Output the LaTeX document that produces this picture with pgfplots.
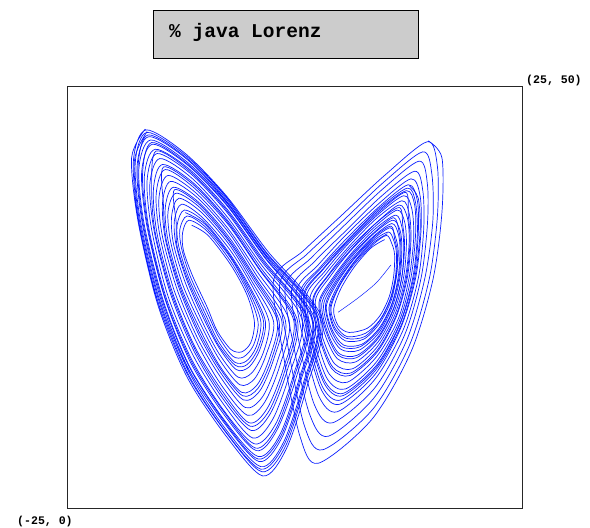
\documentclass[border=0pt]{standalone}
\usepackage{fontspec}
\setmonofont{Liberation Mono}
\usepackage{pgfplots}
\pgfplotsset{compat=1.18}
\definecolor{orbit}{RGB}{10,30,255}
\definecolor{boxgray}{RGB}{204,204,204}
\pgfplotsset{orb/.style={draw=orbit, line width=0.7bp, smooth, mark=none}}
\begin{document}
\begin{tikzpicture}
\useasboundingbox (0,0) rectangle (590bp,528bp);
% title box
\draw[fill=boxgray, draw=black, line width=0.8bp] (153bp,470bp) rectangle (418bp,518bp);
\node[anchor=base west, inner sep=0pt] at (169bp,490bp)
  {\ttfamily\bfseries\fontsize{19.6}{20}\selectfont \% java Lorenz};
% corner labels
\node[anchor=base west, inner sep=0pt] at (526bp,444bp)
  {\ttfamily\bfseries\fontsize{11.6}{12}\selectfont (25, 50)};
\node[anchor=base west, inner sep=0pt] at (17bp,4bp)
  {\ttfamily\bfseries\fontsize{11.6}{12}\selectfont (-25, 0)};

\begin{axis}[
    at={(67bp,20bp)}, anchor=south west,
    scale only axis, width=455bp, height=422bp,
    xmin=-25, xmax=25, ymin=0, ymax=50,
    ticks=none,
    axis line style={line width=0.9bp, black!85},
]
% left lobe, loops spiralling outward
\addplot[orb] coordinates {
 (-11.3,33.5)(-9.5,32.3)(-7.0,28.8)(-5.2,25.2)(-4.4,22.0)(-4.8,19.6)(-5.8,18.5)(-7.0,18.8)(-8.5,21.0)(-9.6,23.8)(-11.2,27.5)(-12.2,30.5)(-12.3,32.6)
 (-11.6,34.1)(-9.6,32.8)(-7.0,29.2)(-5.1,25.5)(-4.0,22.0)(-4.5,19.3)(-5.6,17.9)(-6.8,18.0)(-8.4,20.4)(-9.7,23.4)(-11.4,27.3)(-12.4,30.7)(-12.6,33.0)
 (-11.8,34.6)(-9.8,33.3)(-7.0,29.6)(-5.0,25.7)(-3.7,22.1)(-4.2,19.1)(-5.3,17.4)(-6.6,17.3)(-8.4,19.8)(-9.8,23.0)(-11.6,27.2)(-12.7,30.9)(-12.9,33.5)
 (-12.1,35.3)(-9.9,33.9)(-7.1,30.1)(-4.8,26.0)(-3.2,22.1)(-3.8,18.8)(-5.0,16.7)(-6.4,16.4)(-8.3,19.0)(-10.0,22.5)(-11.8,26.9)(-13.0,31.1)(-13.2,34.0)
 (-12.4,36.0)(-10.1,34.4)(-7.1,30.6)(-4.7,26.4)(-2.8,22.1)(-3.4,18.5)(-4.7,16.0)(-6.2,15.5)(-8.3,18.3)(-10.1,22.0)(-12.0,26.7)(-13.3,31.3)(-13.5,34.6)
 (-12.7,36.7)(-10.2,35.0)(-7.1,31.1)(-4.6,26.7)(-2.3,22.1)(-3.1,18.2)(-4.4,15.3)(-6.0,14.6)(-8.2,17.5)(-10.2,21.5)(-12.3,26.5)(-13.6,31.5)(-13.9,35.1)
 (-13.0,37.3)(-10.4,35.6)(-7.2,31.6)(-4.5,27.0)(-1.9,22.2)(-2.7,17.9)(-4.1,14.6)(-5.8,13.7)(-8.2,16.8)(-10.3,21.0)(-12.5,26.3)(-13.9,31.7)(-14.2,35.6)
 (-13.3,38.0)(-10.5,36.2)(-7.2,32.1)(-4.3,27.3)(-1.4,22.2)(-2.3,17.6)(-3.8,13.9)(-5.6,12.8)(-8.1,16.0)(-10.5,20.5)(-12.7,26.1)(-14.2,31.9)(-14.5,36.2)
 (-13.6,38.7)(-10.7,36.8)(-7.2,32.6)(-4.2,27.6)(-1.0,22.2)(-1.9,17.3)(-3.5,13.2)(-5.4,11.9)(-8.0,15.3)(-10.6,20.0)(-12.9,25.9)(-14.5,32.1)(-14.9,36.7)
 (-13.9,39.4)(-10.8,37.3)(-7.3,33.1)(-4.1,28.0)(-0.6,22.3)(-1.6,16.9)(-3.3,12.5)(-5.2,11.0)(-8.0,14.5)(-10.7,19.5)(-13.2,25.7)(-14.8,32.3)(-15.2,37.2)
 (-14.2,40.1)(-11.0,37.9)(-7.3,33.6)(-3.9,28.3)(-0.1,22.3)(-1.2,16.6)(-3.0,11.8)(-5.0,10.1)(-7.9,13.8)(-10.9,19.0)(-13.4,25.5)(-15.1,32.5)(-15.5,37.8)
 (-14.5,40.7)(-11.1,38.5)(-7.3,34.0)(-3.8,28.6)(0.3,22.3)(-0.8,16.3)(-2.7,11.1)(-4.8,9.2)(-7.9,13.0)(-11.0,18.5)(-13.6,25.3)(-15.4,32.7)(-15.9,38.3)
 (-14.8,41.4)(-11.3,39.1)(-7.4,34.5)(-3.7,28.9)(0.8,22.4)(-0.5,16.0)(-2.4,10.5)(-4.6,8.3)(-7.8,12.3)(-11.1,18.0)(-13.9,25.1)(-15.7,33.0)(-16.2,38.8)
 (-15.1,42.0)(-11.4,39.6)(-7.4,35.0)(-3.6,29.2)(1.2,22.4)(-0.1,15.8)(-2.1,9.9)(-4.4,7.6)(-7.8,11.6)(-11.3,17.6)(-14.1,24.9)(-16.0,33.1)(-16.5,39.3)
 (-15.3,42.5)(-11.5,40.1)(-7.4,35.4)(-3.4,29.4)(1.5,22.4)(0.2,15.5)(-1.9,9.3)(-4.2,6.8)(-7.7,11.0)(-11.4,17.2)(-14.2,24.7)(-16.2,33.3)(-16.8,39.7)
 (-15.6,43.1)(-11.6,40.5)(-7.4,35.8)(-3.3,29.7)(1.9,22.4)(0.5,15.3)(-1.6,8.7)(-4.0,6.1)(-7.7,10.4)(-11.5,16.7)(-14.4,24.5)(-16.5,33.5)(-17.1,40.2)
 (-15.8,43.6)(-11.7,40.9)(-7.4,36.1)(-3.2,29.9)(2.2,22.4)(0.7,15.1)(-1.4,8.3)(-3.9,5.5)(-7.6,9.9)(-11.6,16.4)(-14.6,24.4)(-16.7,33.6)(-17.3,40.5)
 (-16.0,44.0)(-11.8,41.3)(-7.5,36.4)(-3.2,30.1)(2.5,22.5)(1.0,14.9)(-1.2,7.8)(-3.7,4.9)(-7.6,9.4)(-11.6,16.1)(-14.7,24.2)(-16.9,33.8)(-17.5,40.9)
 (-16.2,44.5)(-11.9,41.7)(-7.5,36.8)(-3.1,30.3)(2.8,22.5)(1.2,14.7)(-1.0,7.3)(-3.6,4.3)(-7.5,8.9)(-11.7,15.7)(-14.9,24.1)(-17.1,33.9)(-17.7,41.2)
 (-16.3,44.8)(-12.0,42.0)(-7.5,37.0)(-3.0,30.5)(3.0,22.5)(1.4,14.5)(-0.9,7.0)(-3.5,3.8)(-7.5,8.5)(-11.8,15.5)(-15.0,24.0)(-17.2,34.0)(-17.9,41.5)
 (-16.4,44.9)
};
% left lobe, a later pass of the orbit
\addplot[orb] coordinates {
 (-12.0,35.0)(-9.8,33.6)(-7.1,29.9)(-4.9,25.9)(-3.4,22.1)(-4.0,18.9)(-5.2,17.0)(-6.5,16.9)(-8.4,19.4)(-9.9,22.7)(-11.7,27.0)(-12.9,31.0)(-13.0,33.8)
 (-13.2,37.7)(-10.4,35.9)(-7.2,31.8)(-4.4,27.2)(-1.7,22.2)(-2.5,17.7)(-4.0,14.2)(-5.7,13.3)(-8.1,16.4)(-10.4,20.7)(-12.6,26.2)(-14.1,31.8)(-14.4,35.9)
 (-14.4,40.4)(-11.0,38.2)(-7.3,33.8)(-3.9,28.4)(0.1,22.3)(-1.0,16.5)(-2.8,11.5)(-4.9,9.7)(-7.9,13.4)(-10.9,18.7)(-13.5,25.4)(-15.3,32.6)(-15.7,38.0)
 (-15.2,42.3)(-11.5,39.9)(-7.4,35.2)(-3.5,29.3)(1.4,22.4)(0.0,15.6)(-2.0,9.5)(-4.3,7.1)(-7.7,11.3)(-11.3,17.3)(-14.2,24.8)(-16.1,33.2)(-16.7,39.5)
 (-15.7,43.3)(-11.7,40.7)(-7.4,35.9)(-3.3,29.8)(2.0,22.4)(0.6,15.2)(-1.5,8.5)(-4.0,5.8)(-7.6,10.1)(-11.5,16.6)(-14.5,24.5)(-16.6,33.5)(-17.2,40.3)
 (-16.1,44.2)(-11.9,41.5)(-7.5,36.6)(-3.1,30.2)(2.6,22.5)(1.1,14.8)(-1.1,7.6)(-3.7,4.6)(-7.6,9.1)(-11.7,15.9)(-14.8,24.2)(-17.0,33.8)(-17.6,41.1)
 (-16.2,44.6)
};
% right lobe
\addplot[orb] coordinates {
 (9.9,31.8)(8.4,30.8)(6.6,28.6)(5.1,26.0)(4.3,23.5)(4.8,21.6)(6.0,20.8)(8.0,21.3)(9.4,22.8)(10.4,25.0)(10.9,27.5)(11.0,30.0)(10.7,31.3)
 (10.1,32.3)(8.5,31.1)(6.5,28.8)(4.9,26.2)(4.0,23.6)(4.6,21.5)(5.8,20.3)(7.8,20.7)(9.4,22.3)(10.5,24.7)(11.1,27.5)(11.2,30.2)(10.9,31.7)
 (10.3,32.7)(8.5,31.5)(6.5,29.1)(4.8,26.4)(3.8,23.8)(4.3,21.3)(5.6,19.8)(7.6,20.0)(9.3,21.8)(10.6,24.5)(11.2,27.5)(11.4,30.4)(11.1,32.1)
 (10.5,33.2)(8.6,31.8)(6.4,29.3)(4.6,26.5)(3.5,23.9)(4.1,21.2)(5.4,19.3)(7.4,19.4)(9.3,21.3)(10.7,24.2)(11.4,27.4)(11.6,30.6)(11.4,32.5)
 (10.7,33.7)(8.7,32.2)(6.3,29.5)(4.4,26.7)(3.2,24.1)(3.8,21.0)(5.1,18.8)(7.1,18.7)(9.3,20.8)(10.8,24.0)(11.6,27.4)(11.8,30.8)(11.6,32.9)
 (10.8,34.1)(8.7,32.5)(6.3,29.8)(4.3,26.9)(3.0,24.2)(3.6,20.9)(4.9,18.3)(6.9,18.1)(9.2,20.3)(10.9,23.7)(11.8,27.4)(12.0,31.0)(11.8,33.3)
 (11.1,34.7)(8.8,33.0)(6.2,30.1)(4.1,27.1)(2.7,24.4)(3.3,20.7)(4.7,17.7)(6.7,17.3)(9.2,19.7)(11.0,23.4)(12.0,27.4)(12.3,31.3)(12.1,33.9)
 (11.3,35.3)(8.9,33.4)(6.1,30.4)(3.9,27.4)(2.3,24.6)(3.0,20.5)(4.4,17.1)(6.4,16.5)(9.1,19.1)(11.1,23.1)(12.2,27.4)(12.6,31.5)(12.4,34.4)
 (11.5,35.9)(9.0,33.8)(6.0,30.7)(3.7,27.6)(2.0,24.7)(2.7,20.3)(4.1,16.5)(6.1,15.7)(9.1,18.5)(11.2,22.7)(12.4,27.3)(12.8,31.8)(12.6,34.9)
 (11.8,36.4)(9.0,34.3)(6.0,31.0)(3.5,27.8)(1.7,24.9)(2.4,20.2)(3.8,15.9)(5.8,14.9)(9.0,17.9)(11.4,22.4)(12.6,27.3)(13.1,32.0)(12.9,35.4)
 (12.0,37.0)(9.1,34.7)(5.9,31.3)(3.3,28.0)(1.3,25.1)(2.1,20.0)(3.6,15.3)(5.6,14.1)(9.0,17.3)(11.5,22.1)(12.8,27.3)(13.3,32.3)(13.2,35.9)
 (12.3,37.6)(9.2,35.2)(5.8,31.6)(3.1,28.3)(1.0,25.3)(1.8,19.8)(3.3,14.7)(5.3,13.3)(9.0,16.7)(11.6,21.8)(13.1,27.3)(13.6,32.5)(13.5,36.4)
 (12.5,38.3)(9.3,35.7)(5.7,31.9)(2.8,28.5)(0.6,25.5)(1.4,19.6)(3.0,13.9)(5.0,12.3)(8.9,15.9)(11.7,21.4)(13.3,27.2)(13.9,32.8)(13.8,37.0)
 (12.8,39.0)(9.4,36.2)(5.6,32.3)(2.6,28.8)(0.2,25.7)(1.1,19.4)(2.7,13.2)(4.7,11.4)(8.8,15.2)(11.9,21.0)(13.6,27.2)(14.2,33.1)(14.1,37.6)
 (13.2,39.9)(9.5,36.9)(5.5,32.7)(2.2,29.2)(-0.3,26.0)(0.6,19.1)(2.2,12.2)(4.2,10.1)(8.8,14.2)(12.1,20.5)(13.9,27.2)(14.6,33.5)(14.6,38.4)
 (13.7,41.1)(9.7,37.8)(5.3,33.3)(1.8,29.6)(-1.0,26.3)(0.0,18.7)(1.7,11.0)(3.7,8.5)(8.7,13.0)(12.3,19.8)(14.3,27.1)(15.2,34.0)(15.1,39.5)
 (14.1,42.2)(9.8,38.6)(5.2,33.9)(1.4,30.1)(-1.6,26.7)(-0.6,18.4)(1.1,9.7)(3.1,6.9)(8.6,11.7)(12.6,19.2)(14.8,27.1)(15.7,34.5)(15.7,40.5)
 (14.6,43.4)(10.0,39.5)(5.0,34.5)(1.0,30.5)(-2.3,27.0)(-1.2,18.0)(0.6,8.5)(2.6,5.3)(8.5,10.5)(12.8,18.5)(15.2,27.0)(16.2,35.0)(16.2,41.5)
 (14.7,43.5)
};
% right lobe, a later pass of the orbit
\addplot[orb] coordinates {
 (10.2,32.5)(8.5,31.3)(6.5,29.0)(4.9,26.3)(3.9,23.7)(4.4,21.4)(5.7,20.1)(7.7,20.3)(9.3,22.1)(10.5,24.6)(11.2,27.5)(11.3,30.3)(11.0,31.9)
 (10.6,33.4)(8.6,32.0)(6.4,29.4)(4.5,26.6)(3.4,24.0)(4.0,21.1)(5.2,19.1)(7.2,19.1)(9.3,21.1)(10.7,24.1)(11.5,27.4)(11.7,30.7)(11.5,32.7)
 (10.9,34.4)(8.8,32.7)(6.2,29.9)(4.2,27.0)(2.8,24.3)(3.5,20.8)(4.8,18.1)(6.8,17.8)(9.2,20.1)(10.9,23.6)(11.8,27.4)(12.1,31.1)(11.9,33.5)
 (11.5,35.6)(8.9,33.7)(6.1,30.5)(3.7,27.5)(2.1,24.7)(2.8,20.4)(4.2,16.7)(6.2,16.0)(9.1,18.7)(11.2,22.9)(12.3,27.3)(12.7,31.7)(12.5,34.7)
 (12.2,37.4)(9.2,35.0)(5.8,31.4)(3.1,28.2)(1.1,25.2)(1.9,19.9)(3.4,14.9)(5.4,13.6)(9.0,16.9)(11.6,21.9)(13.0,27.3)(13.5,32.4)(13.3,36.2)
 (12.4,37.9)(9.2,35.4)(5.8,31.7)(2.9,28.4)(0.8,25.4)(1.6,19.7)(3.1,14.3)(5.1,12.8)(8.9,16.3)(11.7,21.6)(13.2,27.2)(13.8,32.7)(13.6,36.7)
 (12.6,38.2)
};
% first stretch of the orbit inside the right hole
\addplot[orb, line width=0.5bp] coordinates {
 (4.8,23.2)(7.0,24.9)(9.0,26.7)(10.6,28.8)
};
\end{axis}
\end{tikzpicture}
\end{document}
